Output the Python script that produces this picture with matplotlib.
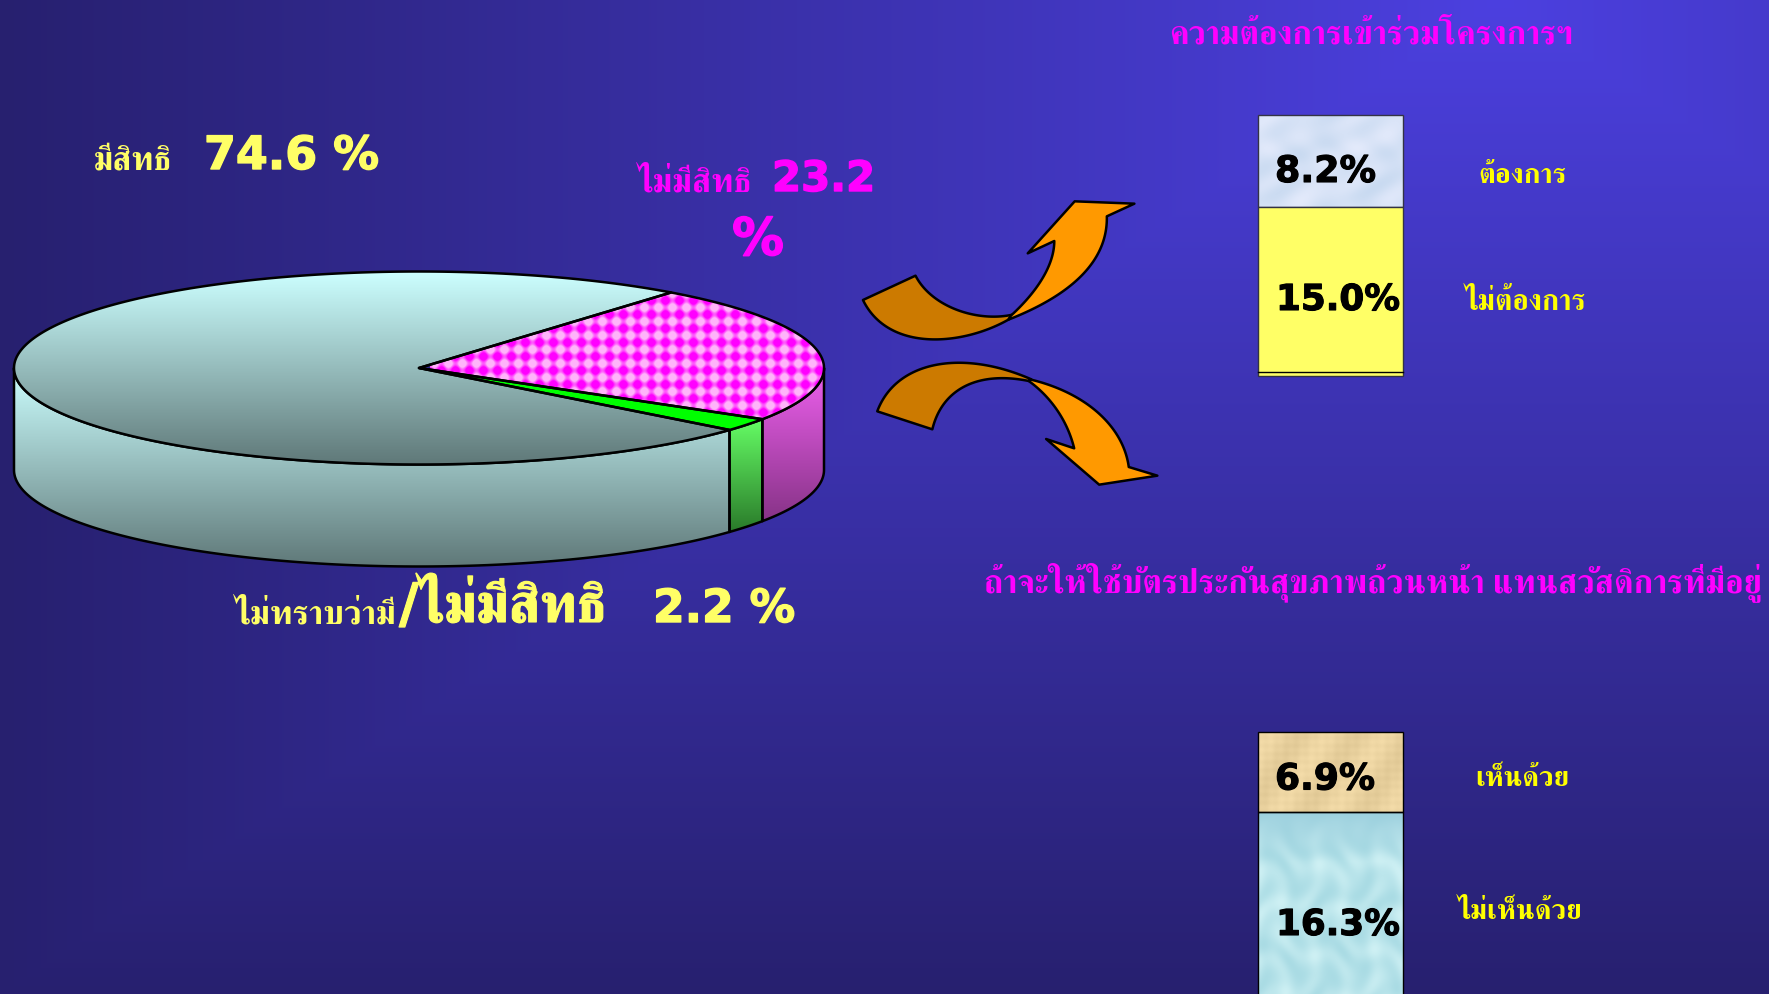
import numpy as np
import matplotlib
matplotlib.use('Agg')
import matplotlib.pyplot as plt
import matplotlib.patheffects as pe
from matplotlib.colors import to_rgb
from matplotlib.patches import Polygon

# ---------- data ----------
pie_labels = ['ไม่มีสิทธิ', 'ไม่ทราบว่ามี/ไม่มีสิทธิ', 'มีสิทธิ']
pie_values = [23.2, 2.2, 74.6]
join_labels = ['ต้องการ', 'ไม่ต้องการ']
join_values = [8.2, 15.0]
agree_labels = ['เห็นด้วย', 'ไม่เห็นด้วย']
agree_values = [6.9, 16.3]
title_join = 'ความต้องการเข้าร่วมโครงการฯ'
title_agree = 'ถ้าจะให้ใช้บัตรประกันสุขภาพถ้วนหน้า แทนสวัสดิการที่มีอยู่'

W, H = 1769, 995
THAI = ['FreeSerif', 'DejaVu Sans']
LATIN = ['DejaVu Sans', 'FreeSerif']
YEL = '#FFFF66'
YEL2 = '#FFFF00'
MAG = '#FF00FF'

fig = plt.figure(figsize=(W / 100, H / 100), dpi=100)
ax = fig.add_axes([0, 0, 1, 1])
ax.set_axis_off()

# ---------- background ----------
yy, xx = np.mgrid[0:H, 0:W]
dx = np.abs(xx - 1500) / 1500
dy = yy / H
t = 1 - np.maximum(dx, dy)
c0 = np.array(to_rgb('#27206F'))
c1 = np.array(to_rgb('#4C40E0'))
bg = c0 + (c1 - c0) * t[..., None]
ax.imshow(bg, extent=(0, W, H, 0), aspect='auto', zorder=0, interpolation='bilinear')


def grad_image(y0, y1, top, bottom):
    a = np.linspace(0, 1, 256)[:, None, None]
    return np.array(to_rgb(top)) + (np.array(to_rgb(bottom)) - np.array(to_rgb(top))) * a, (0, W, y1, y0)


def fill(verts, img, extent, z, lw=1.8, edge='black'):
    patch = Polygon(verts, closed=True, fc='none', ec=edge, lw=lw, zorder=z + 0.5, joinstyle='round')
    ax.add_patch(patch)
    im = ax.imshow(img, extent=extent, aspect='auto', zorder=z, interpolation='bilinear')
    im.set_clip_path(patch)


# ---------- 3D pie ----------
cx, cy, a_, b_, depth = 419, 369, 405, 96.5, 102
start = 51.5


def pt(deg, off=0):
    r = np.radians(deg)
    return np.column_stack([cx + a_ * np.cos(r), cy - b_ * np.sin(r) + off])


sweeps = np.array(pie_values) / sum(pie_values) * 360
edges = start - np.concatenate([[0], np.cumsum(sweeps)])

side_styles = [('#EE60EE', '#803080', 369, 532),
               ('#66FF66', '#2A7A2A', 418, 533),
               ('#CCFFFF', '#5F7878', 369, 568)]
for i, sty in enumerate(side_styles):
    hi = min(edges[i], 0)
    lo = max(edges[i + 1], -180)
    ang = np.linspace(hi, lo, 200)
    verts = np.vstack([pt(ang), pt(ang[::-1], depth)])
    img, ext = grad_image(sty[2], sty[3], sty[0], sty[1])
    fill(verts, img, ext, 2 + i * 0.01)

ang_mag = np.linspace(edges[0], edges[1], 200)
ang_grn = np.linspace(edges[1], edges[2], 40)
ang_big = np.linspace(edges[2], edges[3], 500)
apex = np.array([[cx, cy]])

img, ext = grad_image(273, 466, '#CCFFFF', '#5F7878')
fill(np.vstack([apex, pt(ang_big)]), img, ext, 3)

# checker-dot texture on the magenta slice
ty, tx = np.mgrid[270:440, 430:840]
p = 14.0
u = 0.5 * (np.cos(2 * np.pi * tx / p) + np.cos(2 * np.pi * ty / p))
mask = np.clip(0.5 + 1.1 * u, 0, 1)[..., None]
tex = np.array(to_rgb('#FF00FF')) * (1 - mask) + np.array(to_rgb('#FFB4FA')) * mask
fill(np.vstack([apex, pt(ang_mag)]), tex, (430, 840, 440, 270), 3.1)

img, ext = grad_image(360, 440, '#00FF00', '#00FF00')
fill(np.vstack([apex, pt(ang_grn)]), img, ext, 3.2)


# ---------- curved arrows ----------
def bez(p0, p1, p2, p3, n=60):
    s = np.linspace(0, 1, n)[:, None]
    P = [np.array(q, float) for q in (p0, p1, p2, p3)]
    out = (1 - s) ** 3 * P[0] + 3 * (1 - s) ** 2 * s * P[1] + 3 * (1 - s) * s ** 2 * P[2] + s ** 3 * P[3]
    return z2(out)


def z2(points):
    P = np.array(points, float)
    return np.column_stack([840 + P[:, 0] / 1.96, P[:, 1] / 3])


def shape(parts, color, z):
    ax.add_patch(Polygon(np.vstack(parts), closed=True, fc=color, ec='black', lw=1.8, zorder=z,
                         joinstyle='round'))


DARK = '#CC7A00'
ORG = '#FF9900'
# upper arrow
shape([bez((148, 830), (180, 925), (270, 970), (338, 947)),
       bez((330, 962), (240, 1040), (95, 1060), (45, 903))], DARK, 4)
shape([bez((330, 962), (450, 890), (525, 790), (523, 652)),
       z2([(577, 614), (460, 607), (368, 763)]),
       bez((420, 726), (420, 800), (385, 880), (335, 950))], ORG, 4.1)
# lower arrow
shape([bez((73, 1237), (110, 1085), (240, 1050), (375, 1141)),
       bez((370, 1146), (270, 1115), (200, 1170), (181, 1291))], DARK, 4)
shape([bez((372, 1141), (480, 1180), (555, 1280), (566, 1404)),
       z2([(622, 1430), (508, 1457), (404, 1320)]),
       bez((459, 1348), (445, 1260), (410, 1190), (370, 1146))], ORG, 4.1)


# ---------- stacked bars ----------
def texture(kind, h, w):
    yy, xx = np.mgrid[0:h, 0:w].astype(float)
    if kind == 'sky':
        n = (np.sin(xx / 7 + np.sin(yy / 11) * 2) + np.sin(yy / 5 + xx / 13) + np.sin((xx + yy) / 17)) / 3
        base = np.array(to_rgb('#D6E2F6'))
        return np.clip(base + n[..., None] * np.array([0.05, 0.03, 0.02]), 0, 1)
    if kind == 'paper':
        n = (np.sin(xx / 1.6) * 0.3 + np.sin(yy / 1.3) * 0.3 + np.sin(xx / 9 + yy / 14)) / 2
        base = np.array(to_rgb('#EAD29F'))
        return np.clip(base + n[..., None] * 0.05, 0, 1)
    n = np.sin(xx / 11 + 2 * np.sin(yy / 15)) * np.sin(yy / 13 + 1.5 * np.sin(xx / 9))
    base = np.array(to_rgb('#BCE6EC'))
    img = base + n[..., None] * np.array([0.07, 0.04, 0.03])
    fade = np.clip(1 - yy / 50, 0, 1)[..., None]
    return np.clip(img * (1 - fade) + np.array(to_rgb('#9CD0DE')) * fade, 0, 1)


def stacked(values, top, scale, styles, edge):
    y = top
    for v, sty in zip(values, styles):
        h = v * scale
        bars = ax.bar(1330.5, h, width=145.5, bottom=y, fc='none', ec=edge, lw=1.0, zorder=5.5)
        if sty[0] == 'solid':
            bars[0].set_facecolor(sty[1])
        else:
            img = texture(sty[1], int(h) + 1, 146)
            im = ax.imshow(img, extent=(1258, 1404, y + h, y), aspect='auto', zorder=5,
                           interpolation='bilinear')
            im.set_clip_path(bars[0])
        y += h


stacked(join_values, 116, 11.25, [('tex', 'sky'), ('solid', YEL)], '#333344')
ax.plot([1257.5, 1403], [373, 373], color='black', lw=1.0, zorder=6)
stacked(agree_values, 733.3, 11.6, [('tex', 'paper'), ('tex', 'water')], 'black')


# ---------- text ----------
def fit(s, x0, x1, base, color, family, weight='bold', stroke=0.0):
    tx = ax.text(x0, base, s, color=color, family=family, weight=weight, fontsize=30,
                 ha='left', va='baseline', zorder=8)
    bb = tx.get_window_extent(fig.canvas.get_renderer())
    tx.set_fontsize(30 * (x1 - x0) / bb.width)
    if stroke:
        tx.set_path_effects([pe.withStroke(linewidth=stroke, foreground=color)])
    return tx


fit(pie_labels[2], 94, 172, 169, YEL, THAI)
fit('%.1f %%' % pie_values[2], 204, 379, 170, YEL, LATIN, stroke=1.0)
fit(pie_labels[0], 638, 752, 192, MAG, THAI)
fit('%.1f' % pie_values[0], 772, 875, 192, MAG, LATIN, stroke=1.0)
fit('%', 732, 784, 256, MAG, LATIN, stroke=1.0)
low1, low2 = pie_labels[1].split('/')
fit(low1, 235, 396, 623, YEL, THAI)
fit('/' + low2, 399, 606, 623, YEL, LATIN, stroke=0.8)
fit('%.1f %%' % pie_values[1], 653, 795, 623, YEL, LATIN, stroke=1.0)

fit(title_join, 1169, 1572, 44, MAG, THAI)
fit(title_agree, 984, 1760, 592, MAG, THAI)

fit('%.1f%%' % join_values[0], 1275, 1376, 183, 'black', LATIN, stroke=0.8)
fit('%.1f%%' % join_values[1], 1276, 1400, 311, 'black', LATIN, stroke=0.8)
fit('%.1f%%' % agree_values[0], 1275, 1375, 790.5, 'black', LATIN, stroke=0.8)
fit('%.1f%%' % agree_values[1], 1276, 1400, 936, 'black', LATIN, stroke=0.8)

fit(join_labels[0], 1478, 1566, 183, YEL2, THAI)
fit(join_labels[1], 1465, 1586, 310, YEL2, THAI)
fit(agree_labels[0], 1475, 1569, 786, YEL2, THAI)
fit(agree_labels[1], 1458, 1583, 919, YEL2, THAI)

ax.set_xlim(0, W)
ax.set_ylim(H, 0)
fig.savefig('out.png', dpi=100)
